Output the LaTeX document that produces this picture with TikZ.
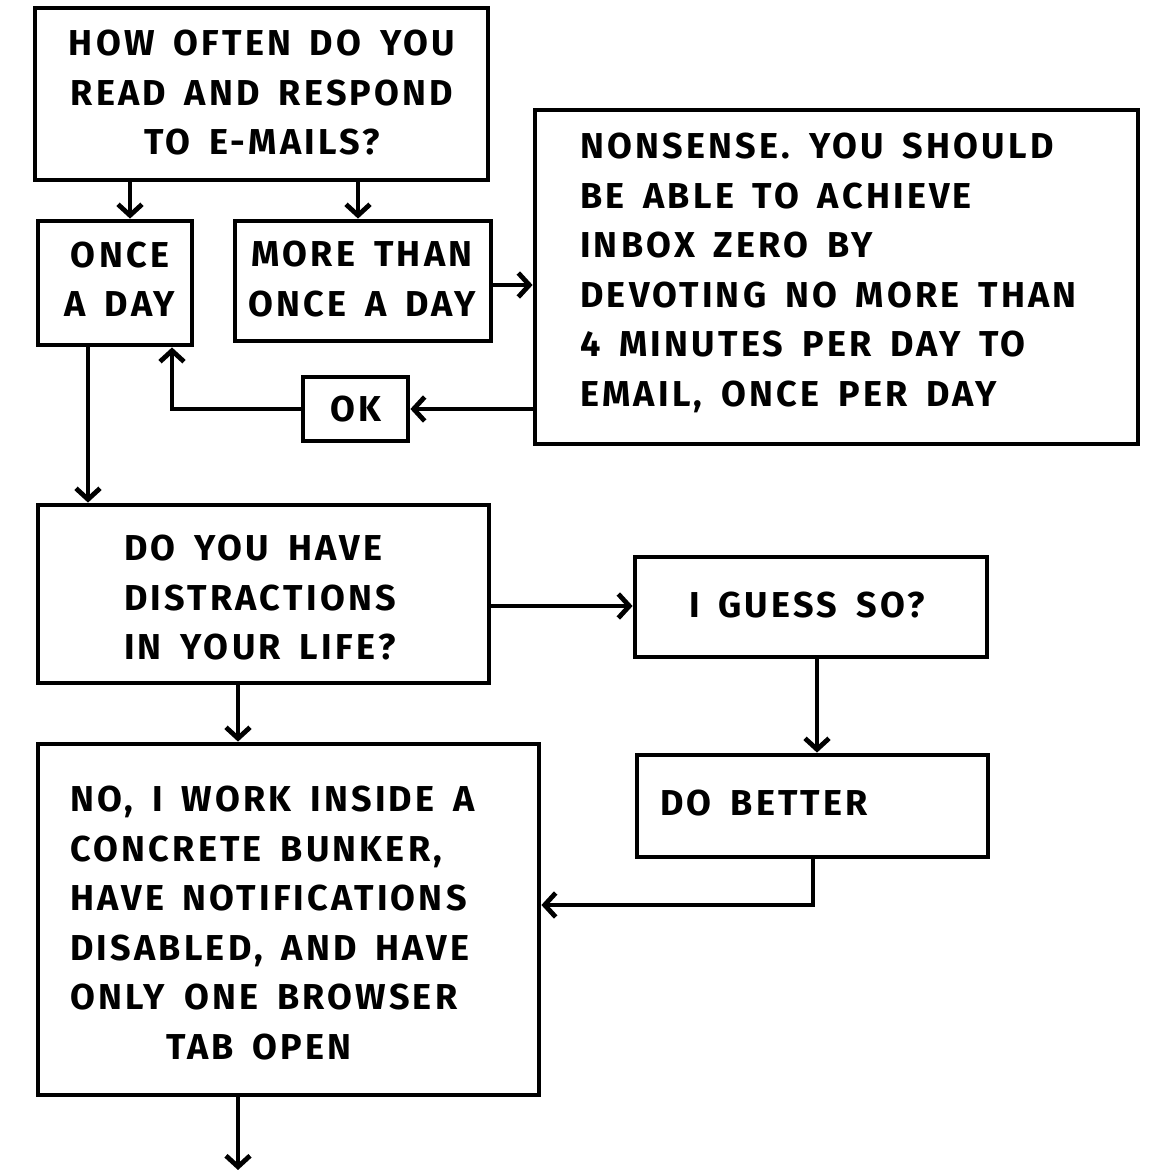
\documentclass[tikz,border=0pt]{standalone}
\usepackage{fontspec}
\setmainfont{Fira Sans}
\newfontfamily\handfont[LetterSpace=9,WordSpace=1.6]{Fira Sans Bold}
\usetikzlibrary{arrows.meta}
\begin{document}
\begin{tikzpicture}[x=1pt,y=-1pt,
  box/.style={draw, line width=4.8pt, inner sep=0pt},
  txt/.style={font=\handfont\fontsize{36}{49.5}\selectfont, inner sep=0pt, align=center},
  txl/.style={txt, align=left, anchor=west},
  arr/.style={line width=4.8pt, -{Straight Barb[length=11pt,width=24pt]}}]
\useasboundingbox[fill=white] (0,0) rectangle (1170,1170);
% boxes
\node[box, minimum width=453, minimum height=172] (q1) at (261.5,94) {};
\node[box, minimum width=154, minimum height=124] (once) at (115,283) {};
\node[box, minimum width=256, minimum height=120] (more) at (363,281) {};
\node[box, minimum width=603, minimum height=334] (non) at (836.5,277) {};
\node[box, minimum width=105, minimum height=64] (ok) at (355.5,409) {};
\node[box, minimum width=451, minimum height=178] (dis) at (263.5,594) {};
\node[box, minimum width=352, minimum height=100] (guess) at (811,607) {};
\node[box, minimum width=351, minimum height=102] (better) at (812.5,806) {};
\node[box, minimum width=501, minimum height=351] (work) at (288.5,919.5) {};
% texts
\node[txt] (tq1) at (262,93) {HOW OFTEN DO YOU\\READ AND RESPOND\\TO E-MAILS?};
\node[txt] (tonce) at (120,279) {ONCE\\A DAY};
\node[txt] (tmore) at (362,279) {MORE THAN\\ONCE A DAY};
\node[txl] (tnon) at (580,273) {NONSENSE. YOU SHOULD\\BE ABLE TO ACHIEVE\\INBOX ZERO BY\\DEVOTING NO MORE THAN\\4 MINUTES PER DAY TO\\EMAIL, ONCE PER DAY};
\node[txt] (tok) at (355.5,409) {OK};
\node[txl] (tdis) at (124,598) {DO YOU HAVE\\DISTRACTIONS\\IN YOUR LIFE?};
\node[txt] (tguess) at (807,605) {I GUESS SO?};
\node[txl] (tbetter) at (660,803) {DO BETTER};
\node[txl] (twork) at (70,923) {NO, I WORK INSIDE A\\CONCRETE BUNKER,\\HAVE NOTIFICATIONS\\DISABLED, AND HAVE\\ONLY ONE BROWSER\\\hspace*{96pt}TAB OPEN};
\coordinate (end) at (238,1170);
% connectors
\draw[arr] (130,0 |- q1.south) -- (130,0 |- once.north);
\draw[arr] (358,0 |- q1.south) -- (358,0 |- more.north);
\draw[arr] (more.east |- 0,285) -- (non.west |- 0,285);
\draw[arr] (non.west |- ok.east) -- (ok.east);
\draw[arr] (ok.west) -| (172,0 |- once.south);
\draw[arr] (88,0 |- once.south) -- (88,0 |- dis.north);
\draw[arr] (dis.east |- 0,606) -- (guess.west |- 0,606);
\draw[arr] (817,0 |- guess.south) -- (817,0 |- better.north);
\draw[arr] (813,0 |- better.south) |- (work.east |- 0,905);
\draw[arr] (238,0 |- dis.south) -- (238,0 |- work.north);
\draw[arr] (238,0 |- work.south) -- (end);
\end{tikzpicture}
\end{document}
